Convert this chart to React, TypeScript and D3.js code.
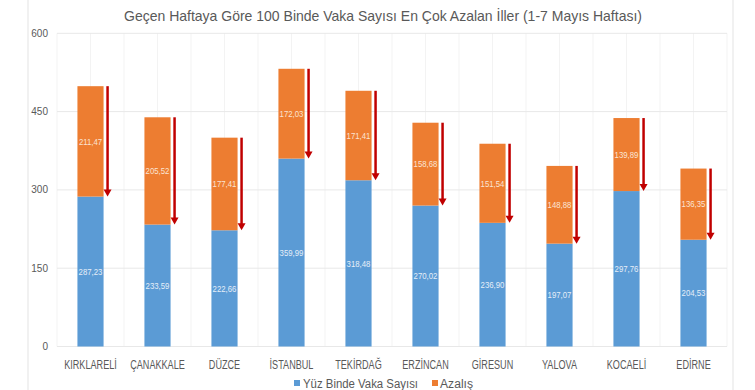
import React from 'react';
import * as d3 from 'd3';

const cities = ['KIRKLARELİ', 'ÇANAKKALE', 'DÜZCE', 'İSTANBUL', 'TEKİRDAĞ', 'ERZİNCAN', 'GİRESUN', 'YALOVA', 'KOCAELİ', 'EDİRNE'];
const cases = [287.23, 233.59, 222.66, 359.99, 318.48, 270.02, 236.9, 197.07, 297.76, 204.53];
const drops = [211.47, 205.52, 177.41, 172.03, 171.41, 158.68, 151.54, 148.88, 139.89, 136.35];
const yTicks = [0, 150, 300, 450, 600];
const seriesNames = ['Yüz Binde Vaka Sayısı', 'Azalış'];

const W = 755;
const H = 390;
const BLUE = '#5B9BD5';
const ORANGE = '#ED7D31';
const RED = '#C00000';
const GREY = '#595959';
const FONT = "'Liberation Sans', Arial, sans-serif";

const fmt = (v: number) => v.toFixed(2).replace('.', ',');

// narrow text, Calibri-like width
const Narrow = ({ x, y, k, children, ...rest }: any) => (
  <text transform={`translate(${x},${y}) scale(${k},1)`} dy="0.35em" textAnchor="middle" {...rest}>
    {children}
  </text>
);

const App = () => {
  // scales
  const x = d3.scaleBand().domain(cities).range([57, 727]).paddingInner(0.61).paddingOuter(0.305);
  const y = d3.scaleLinear().domain([0, 600]).range([346.5, 33.3]);
  const step = x.step();
  const bw = x.bandwidth();

  // faint vertical grid every half category
  const vLines = d3.range(0, cities.length * 2 + 1).map(i => 57 + (i * step) / 2);

  return (
    <svg width={W} height={H} style={{ position: 'absolute', left: 0, top: 0, background: '#fff' }} fontFamily={FONT}>
      <line x1={28} x2={28} y1={0} y2={H} stroke="#e3e3e3" />
      <line x1={733} x2={733} y1={0} y2={H} stroke="#e3e3e3" />

      <text x={383} y={21} textAnchor="middle" fontSize={14.5} fill={GREY} textLength={518} lengthAdjust="spacingAndGlyphs">
        Geçen Haftaya Göre 100 Binde Vaka Sayısı En Çok Azalan İller (1-7 Mayıs Haftası)
      </text>

      {vLines.map((vx, i) => (
        <line key={'v' + i} x1={vx} x2={vx} y1={y(600)} y2={y(0)} stroke="#f3f3f3" />
      ))}
      {yTicks.map(t => (
        <g key={'t' + t}>
          <line x1={57} x2={727} y1={y(t)} y2={y(t)} stroke="#e8e8e8" />
          <text x={48} y={y(t)} dy="0.35em" textAnchor="end" fontSize={10} fill={GREY}>
            {t}
          </text>
        </g>
      ))}

      {cities.map((c, i) => {
        const bx = x(c) as number;
        const cx = bx + bw / 2;
        const total = cases[i] + drops[i];
        const ax = bx + bw + 4;
        const yTop = y(total);
        const yTip = y(cases[i]);
        return (
          <g key={c}>
            <rect x={bx} y={y(cases[i])} width={bw} height={y(0) - y(cases[i])} fill={BLUE} />
            <rect x={bx} y={yTop} width={bw} height={y(cases[i]) - yTop} fill={ORANGE} />
            <Narrow x={cx} y={(y(0) + y(cases[i])) / 2} k={0.82} fontSize={9.5} fill="#e6eef8">
              {fmt(cases[i])}
            </Narrow>
            <Narrow x={cx} y={(yTop + y(cases[i])) / 2} k={0.82} fontSize={9.5} fill="#fbe4d4">
              {fmt(drops[i])}
            </Narrow>
            <line x1={ax} x2={ax} y1={yTop} y2={yTip - 6} stroke={RED} strokeWidth={2.5} />
            <path d={`M${ax - 4},${yTip - 7} L${ax + 4},${yTip - 7} L${ax},${yTip} Z`} fill={RED} />
            <Narrow x={cx} y={364} k={0.7} fontSize={13} fill={GREY}>
              {c}
            </Narrow>
          </g>
        );
      })}

      <g fontSize={12} fill={GREY}>
        <rect x={294} y={380} width={6} height={6} fill={BLUE} />
        <text x={303} y={384} dy="0.35em" textLength={115} lengthAdjust="spacingAndGlyphs">{seriesNames[0]}</text>
        <rect x={432} y={380} width={6} height={6} fill={ORANGE} />
        <text x={440} y={384} dy="0.35em" textLength={33} lengthAdjust="spacingAndGlyphs">{seriesNames[1]}</text>
      </g>
    </svg>
  );
};

export default App;
